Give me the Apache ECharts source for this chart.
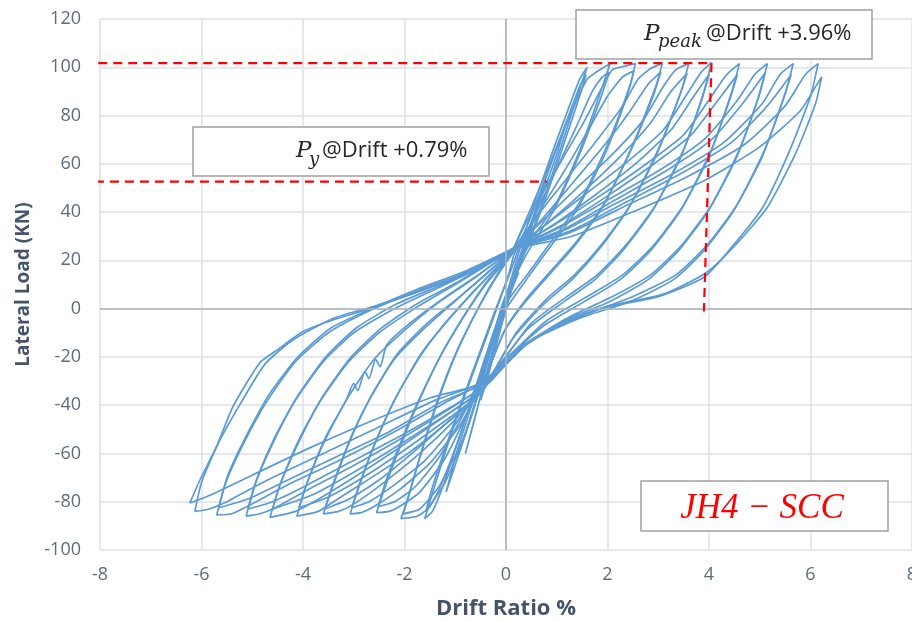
<!DOCTYPE html>
<html lang="en">
<head>
    <meta charset="UTF-8">
    <title>JH4-SCC hysteresis</title>
    <style>
        html, body { margin: 0; padding: 0; background: #fff; }
        #main { width: 912px; height: 621px; }
    </style>
</head>
<body>
<div id="main"></div>
<script src="https://cdn.jsdelivr.net/npm/echarts@6/dist/echarts.min.js"></script>
<script>
    // axis ticks
    const xTicks = [-8, -6, -4, -2, 0, 2, 4, 6, 8];
    const yTicks = [-100, -80, -60, -40, -20, 0, 20, 40, 60, 80, 100, 120];

    // cycles: [drift %, load kN]
    const loop01 = [[0,0],[0.1,7],[0.25,15],[0.15,10],[0,3],[-0.1,-6],[-0.25,-16],[-0.15,-10],[0,0]];
    const loop02 = [[0,0],[0.2,14],[0.4,26],[0.52,34],[0.35,24],[0.1,8],[-0.1,-7],[-0.3,-22],[-0.5,-38],[-0.38,-30],[-0.15,-12],[0.05,4],[0.15,12]];
    const loop03 = [[0.15,12],[0.4,28],[0.65,44],[0.8,53],[0.62,42],[0.3,22],[0.05,6],[-0.2,-12],[-0.5,-36],[-0.8,-60],[-0.62,-46],[-0.3,-20],[0,0],[0.15,14]];
    const loop04 = [[0.15,14],[0.5,36],[0.85,58],[1.2,78],[1.0,64],[0.6,40],[0.25,18],[-0.05,0],[-0.4,-24],[-0.8,-52],[-1.18,-76],[-0.95,-58],[-0.55,-32],[-0.15,-6],[0.15,16]];
    const loop05 = [[0.15,16],[0.5,40],[0.9,64],[1.25,84],[1.45,95],[1.6,100],[1.5,94],[1.25,78],[0.9,55],[0.55,34],[0.2,14],[-0.15,-4],[-0.5,-26],[-0.9,-52],[-1.25,-74],[-1.45,-84],[-1.6,-87],[-1.5,-80],[-1.25,-63],[-0.95,-44],[-0.6,-24],[-0.25,-4],[0.05,14],[0.15,22]];
    const loop05b = [[0.15,22],[0.45,36],[0.85,58],[1.2,78],[1.45,92],[1.58,97],[1.48,90],[1.2,72],[0.85,50],[0.5,30],[0.15,12],[-0.2,-8],[-0.55,-30],[-0.95,-55],[-1.3,-74],[-1.5,-82],[-1.58,-84],[-1.45,-74],[-1.2,-58],[-0.9,-40],[-0.55,-20],[-0.2,0],[0.1,16],[0.25,25]];
    const loop06 = [[0.15,25],[0.5,42],[0.9,62],[1.3,82],[1.6,95],[1.85,99],[2.05,101.5],[1.9,92],[1.5,68],[1.0,44],[0.55,30],[0.2,16],[-0.1,0],[-0.4,-25],[-0.8,-52],[-1.2,-72],[-1.55,-83],[-1.75,-86],[-2.07,-87],[-1.95,-80],[-1.7,-62],[-1.4,-42],[-1.05,-22],[-0.7,-6],[-0.35,8],[0,20],[0.15,25]];
    const loop06b = [[0.25,25],[0.6,40],[1.0,58],[1.4,76],[1.7,90],[1.9,96],[2.03,98],[1.88,88],[1.45,64],[0.95,41],[0.5,26],[0.15,12],[-0.15,-4],[-0.45,-28],[-0.85,-54],[-1.3,-73],[-1.7,-83],[-2.03,-85],[-1.9,-76],[-1.65,-58],[-1.35,-38],[-1.0,-19],[-0.6,-2],[-0.25,11],[0.1,22],[0.25,26]];
    const loop07 = [[0.15,25],[0.5,40],[1.0,58],[1.5,76],[1.9,92],[2.1,99],[2.35,100.5],[2.55,101.5],[2.45,93],[2.0,68],[1.45,44],[0.9,28],[0.45,15],[0,2],[-0.35,-18],[-0.7,-40],[-1.2,-62],[-1.7,-76],[-2.1,-82],[-2.3,-84],[-2.55,-84.5],[-2.4,-75],[-2.1,-58],[-1.75,-40],[-1.3,-20],[-0.85,-4],[-0.4,10],[0,20],[0.15,25]];
    const loop07b = [[0.25,26],[0.65,40],[1.15,57],[1.65,75],[2.0,88],[2.3,96],[2.52,98.5],[2.4,89],[1.95,64],[1.4,41],[0.85,25],[0.4,12],[-0.05,-2],[-0.4,-22],[-0.8,-42],[-1.3,-61],[-1.8,-74],[-2.2,-80],[-2.52,-82],[-2.36,-71],[-2.05,-54],[-1.7,-37],[-1.25,-18],[-0.8,-2],[-0.35,12],[0.25,26]];
    const loop08 = [[0.15,25],[0.6,38],[1.2,54],[1.8,70],[2.3,84],[2.6,95],[2.85,99.5],[3.08,101.5],[2.95,92],[2.5,68],[1.95,44],[1.4,28],[0.9,16],[0.4,4],[0,-8],[-0.4,-28],[-0.9,-48],[-1.5,-64],[-2.1,-75],[-2.6,-82],[-2.85,-84.5],[-3.07,-85],[-2.9,-74],[-2.6,-57],[-2.2,-38],[-1.7,-20],[-1.2,-6],[-0.6,8],[-0.1,19],[0.15,25]];
    const loop08b = [[0.25,26],[0.75,38],[1.35,53],[1.95,68],[2.45,82],[2.8,93],[3.05,98],[2.9,88],[2.45,65],[1.9,42],[1.35,26],[0.85,14],[0.35,2],[-0.05,-10],[-0.45,-30],[-1.0,-48],[-1.6,-63],[-2.2,-73],[-2.7,-80],[-3.04,-82.5],[-2.86,-71],[-2.55,-54],[-2.15,-36],[-1.65,-18],[-1.15,-5],[-0.55,9],[0.25,26]];
    const loop09 = [[0.15,25],[0.7,36],[1.4,50],[2.1,64],[2.7,78],[3.1,92],[3.35,99],[3.6,101.5],[3.45,90],[3.0,66],[2.45,43],[1.9,27],[1.35,14],[0.8,4],[0.2,-10],[-0.4,-32],[-1.0,-46],[-1.7,-60],[-2.4,-72],[-3.0,-81],[-3.3,-84],[-3.6,-85],[-3.42,-74],[-3.1,-56],[-2.7,-38],[-2.2,-21],[-1.6,-8],[-0.9,5],[-0.3,16],[0.15,25]];
    const loop09b = [[0.25,26],[0.85,36],[1.55,49],[2.25,63],[2.85,77],[3.25,90],[3.57,97.5],[3.4,87],[2.95,63],[2.4,41],[1.85,25],[1.3,12],[0.75,2],[0.15,-12],[-0.45,-33],[-1.1,-46],[-1.8,-59],[-2.5,-71],[-3.1,-79],[-3.57,-83],[-3.38,-71],[-3.05,-53],[-2.65,-36],[-2.15,-19],[-1.55,-6],[-0.85,6],[-0.2,18],[0.25,26]];
    const loop10 = [[0.15,25],[0.8,35],[1.6,48],[2.4,61],[3.1,74],[3.6,90],[3.85,98],[4.05,102],[3.9,90],[3.5,66],[2.95,43],[2.35,26],[1.8,14],[1.2,5],[0.5,-6],[0,-20],[-0.5,-35],[-1.2,-48],[-2.0,-61],[-2.8,-72],[-3.4,-80],[-3.7,-84],[-4.12,-86],[-3.95,-74],[-3.6,-56],[-3.15,-38],[-2.6,-21],[-2.0,-9],[-1.3,3],[-0.6,13],[0.15,25]];
    const loop10b = [[0.25,26],[0.95,35],[1.75,47],[2.55,60],[3.25,74],[3.7,88],[4.0,97],[3.85,86],[3.45,63],[2.9,41],[2.3,24],[1.75,12],[1.15,3],[0.45,-8],[-0.05,-21],[-0.55,-36],[-1.3,-48],[-2.1,-60],[-2.9,-71],[-3.5,-78],[-4.08,-82.5],[-3.9,-71],[-3.55,-53],[-3.15,-38],[-3.0,-31],[-2.92,-34],[-2.78,-26],[-2.7,-29],[-2.57,-21],[-2.48,-24],[-2.35,-15],[-1.95,-7],[-1.25,4],[-0.55,14],[0.25,26]];
    const loop11 = [[0.15,25],[0.9,34],[1.8,46],[2.7,59],[3.5,72],[4.05,88],[4.35,97],[4.6,101.5],[4.45,90],[4.05,66],[3.5,43],[2.9,26],[2.3,14],[1.6,5],[0.8,-5],[0,-21],[-0.5,-34],[-1.3,-46],[-2.2,-59],[-3.0,-70],[-3.7,-79],[-4.15,-84],[-4.65,-86.5],[-4.47,-74],[-4.1,-56],[-3.65,-38],[-3.1,-22],[-2.5,-10],[-1.8,0],[-1.0,10],[-0.3,19],[0.15,25]];
    const loop11b = [[0.25,26],[1.05,34],[1.95,46],[2.85,59],[3.65,72],[4.2,87],[4.56,97],[4.4,86],[4.0,63],[3.45,41],[2.85,24],[2.25,12],[1.55,3],[0.75,-7],[-0.05,-22],[-0.55,-35],[-1.4,-47],[-2.3,-59],[-3.1,-69],[-3.8,-77],[-4.6,-83],[-4.42,-71],[-4.05,-53],[-3.6,-36],[-3.05,-20],[-2.45,-8],[-1.75,2],[-0.95,11],[-0.25,20],[0.25,26]];
    const loop12 = [[0.15,25],[1.0,33],[2.0,45],[3.0,57],[3.9,70],[4.55,86],[4.9,97],[5.15,101.5],[5.0,89],[4.6,66],[4.05,43],[3.45,26],[2.85,14],[2.1,5],[1.2,-4],[0.3,-16],[-0.3,-30],[-1.0,-40],[-2.0,-53],[-3.0,-65],[-3.9,-75],[-4.6,-83],[-4.85,-85],[-5.12,-86],[-4.95,-73],[-4.6,-56],[-4.15,-38],[-3.6,-22],[-3.0,-10],[-2.2,0],[-1.3,9],[-0.5,17],[0.15,25]];
    const loop12b = [[0.25,26],[1.15,33],[2.15,45],[3.15,57],[4.05,70],[4.7,86],[5.1,97.5],[4.95,86],[4.55,63],[4.0,41],[3.4,24],[2.8,12],[2.05,3],[1.15,-5],[0.25,-17],[-0.35,-31],[-1.1,-41],[-2.1,-53],[-3.1,-64],[-4.0,-74],[-4.6,-80],[-5.08,-83],[-4.9,-70],[-4.55,-53],[-4.1,-36],[-3.55,-20],[-2.95,-8],[-2.15,2],[-1.25,10],[-0.45,18],[0.25,26]];
    const loop13 = [[0.15,25],[1.1,32],[2.2,44],[3.3,56],[4.3,69],[5.05,85],[5.4,97],[5.66,101.5],[5.5,89],[5.1,66],[4.55,43],[3.95,26],[3.35,14],[2.5,5],[1.5,-3],[0.5,-13],[-0.3,-29],[-1.2,-39],[-2.2,-51],[-3.3,-63],[-4.3,-73],[-5.1,-82],[-5.4,-85],[-5.7,-85.5],[-5.52,-72],[-5.15,-55],[-4.7,-38],[-4.15,-22],[-3.5,-10],[-2.7,-1],[-1.8,7],[-0.8,15],[0.15,25]];
    const loop13b = [[0.25,26],[1.25,32],[2.35,44],[3.45,56],[4.45,69],[5.15,84],[5.62,97],[5.45,86],[5.05,63],[4.5,41],[3.9,24],[3.3,12],[2.45,3],[1.45,-4],[0.45,-14],[-0.35,-30],[-1.3,-39],[-2.3,-51],[-3.4,-62],[-4.4,-72],[-5.1,-79],[-5.66,-82.5],[-5.48,-69],[-5.1,-52],[-4.65,-35],[-4.1,-20],[-3.45,-8],[-2.65,0],[-1.75,8],[-0.75,16],[0.25,26]];
    const loop14 = [[0.15,25],[1.2,31],[2.4,43],[3.6,55],[4.7,68],[5.5,84],[5.9,97],[6.15,101.5],[6.0,88],[5.6,66],[5.06,42],[4.47,26],[3.9,13],[3.0,5],[1.85,0],[1.0,-7],[0.2,-18],[-0.4,-30],[-1.4,-38],[-2.5,-49],[-3.6,-60],[-4.7,-71],[-5.5,-80],[-5.85,-83],[-6.13,-84],[-6.0,-72],[-5.65,-55],[-5.25,-40],[-4.75,-23],[-4.2,-13],[-3.4,-4],[-2.6,1],[-1.6,8],[-0.6,16],[0.15,25]];
    const loop15 = [[0.15,25],[1.3,30],[2.6,41],[3.9,53],[5.0,67],[5.8,82],[6.1,92],[6.22,96],[6.1,85],[5.7,64],[5.15,42],[4.55,27],[3.95,15],[3.1,6],[2.0,1],[1.1,-6],[0.2,-17],[-0.5,-31],[-1.5,-37],[-2.7,-47],[-3.9,-58],[-5.0,-69],[-5.8,-77],[-6.23,-80.5],[-6.03,-71],[-5.7,-57],[-5.38,-40.6],[-4.85,-22.4],[-4.5,-17],[-4.0,-9.5],[-3.4,-4.6],[-2.74,-0.4],[-2.0,5],[-1.2,11],[-0.5,18],[0,22]];

    const loops = [loop01, loop02, loop03, loop04, loop05, loop05b, loop06, loop06b,
        loop07, loop07b, loop08, loop08b, loop09, loop09b, loop10, loop10b,
        loop11, loop11b, loop12, loop12b, loop13, loop13b, loop14, loop15];

    // red guide lines
    const yieldLine = [[-8.1, 52.6], [0.8, 52.6]];
    const peakLine = [[-8.33, 101.7], [4.05, 101.7]];
    const peakDrop = [[4.05, 101.7], [3.9, -1.2]];

    const blue = '#5b9bd5';
    const tickColor = '#5f6b7a';
    const titleColor = '#44546a';

    var chartDom = document.getElementById('main');
    var myChart = echarts.init(chartDom);

    let series = loops.map(function (d) {
        return {
            type: 'line',
            data: d,
            showSymbol: false,
            symbol: 'none',
            smooth: 0.2,
            silent: true,
            z: 3,
            lineStyle: { color: blue, width: 1.7 }
        };
    });

    // zero axis lines
    series.push({
        type: 'line',
        data: [],
        silent: true,
        z: 1,
        markLine: {
            silent: true,
            symbol: 'none',
            label: { show: false },
            lineStyle: { color: '#a9b3c1', width: 1.6, type: 'solid' },
            data: [{ xAxis: 0 }, { yAxis: 0 }]
        }
    });

    [yieldLine, peakLine, peakDrop].forEach(function (d) {
        series.push({
            type: 'line',
            data: d,
            showSymbol: false,
            symbol: 'none',
            clip: false,
            silent: true,
            z: 5,
            lineStyle: { color: '#ff0000', width: 2.2, type: [9, 6] }
        });
    });

    function box(x, y, w, h) {
        return {
            type: 'rect',
            shape: { x: x, y: y, width: w, height: h },
            style: { fill: '#fff', stroke: '#a0a0a0', lineWidth: 1.5 },
            z: 10
        };
    }

    function txt(x, y, s, font, color) {
        return {
            type: 'text',
            x: x, y: y,
            style: { text: s, font: font, fill: color || '#262626', verticalAlign: 'middle', align: 'left' },
            z: 11
        };
    }

    var option = {
        animation: false,
        grid: { left: 100, right: 0, top: 19, bottom: 71, outerBoundsMode: 'none', containLabel: false },
        xAxis: {
            type: 'value',
            min: xTicks[0],
            max: xTicks[xTicks.length - 1],
            interval: xTicks[1] - xTicks[0],
            name: 'Drift Ratio %',
            nameLocation: 'middle',
            nameGap: 48,
            nameTextStyle: { fontFamily: 'Open Sans', fontWeight: 'bold', fontSize: 22, color: titleColor },
            axisLine: { show: false, onZero: false },
            axisTick: { show: false },
            axisLabel: { fontFamily: 'Open Sans', fontSize: 18, color: tickColor, margin: 16 },
            splitLine: { show: true, lineStyle: { color: '#dde1e8', width: 1.5 } }
        },
        yAxis: {
            type: 'value',
            min: yTicks[0],
            max: yTicks[yTicks.length - 1],
            interval: yTicks[1] - yTicks[0],
            name: 'Lateral Load (KN)',
            nameLocation: 'middle',
            nameGap: 66,
            nameTextStyle: { fontFamily: 'Open Sans', fontWeight: 'bold', fontSize: 19, color: titleColor },
            axisLine: { show: false, onZero: false },
            axisTick: { show: false },
            axisLabel: { fontFamily: 'Open Sans', fontSize: 18, color: tickColor, margin: 19 },
            splitLine: { show: true, lineStyle: { color: '#dde1e8', width: 1.5 } }
        },
        graphic: [
            box(193, 127, 296, 49),
            txt(296, 151, 'P', 'italic 23px "DejaVu Serif"'),
            txt(309, 160, 'y', 'italic 18px "DejaVu Serif"'),
            txt(322, 151, '@Drift +0.79%', '22px "Open Sans"'),

            box(576, 10, 296, 49),
            txt(644, 34, 'P', 'italic 23px "DejaVu Serif"'),
            txt(658, 42, 'peak', 'italic 18px "DejaVu Serif"'),
            txt(706, 34, '@Drift +3.96%', '22px "Open Sans"'),

            box(641, 481, 247, 50),
            {
                type: 'text',
                x: 762, y: 509,
                style: {
                    text: 'JH4 \u2212 SCC',
                    font: 'italic 35px "Liberation Serif"',
                    fill: '#ff0000',
                    align: 'center',
                    verticalAlign: 'middle'
                },
                z: 11
            }
        ],
        series: series
    };

    option && myChart.setOption(option);
</script>
</body>
</html>
